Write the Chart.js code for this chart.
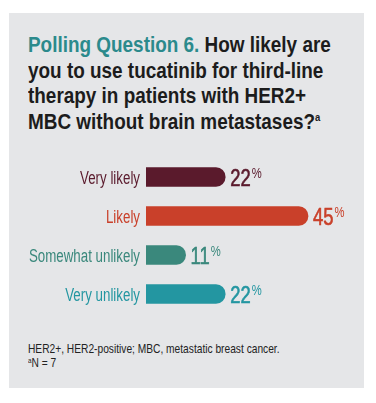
<!DOCTYPE html>
<html>
<head>
<meta charset="utf-8">
<script src="https://cdn.jsdelivr.net/npm/chart.js@4"></script>
<style>
  html, body { margin: 0; padding: 0; background: #fff; }
  body { width: 376px; height: 403px; position: relative; overflow: hidden; }
  #panel { position: absolute; left: 9px; top: 13px; width: 355px; height: 375px; background: #e5e6e8; }
  #title { position: absolute; left: 28px; top: 32px; white-space: nowrap;
    font-family: "Liberation Sans", Arial, sans-serif;
    font-weight: bold; font-size: 22px; line-height: 25.5px; color: #1c1c1c;
    transform: scaleX(0.86); transform-origin: 0 0; }
  #title .lead { color: #2b8a8c; }
  #title sup { font-size: 11px; vertical-align: 8px; line-height: 0; }
  #chartBox { position: absolute; left: 0; top: 150px; width: 376px; height: 170px; }
  #foot { position: absolute; left: 28px; top: 342px; white-space: nowrap;
    font-family: "Liberation Sans", Arial, sans-serif;
    font-size: 13px; line-height: 14px; color: #222;
    transform: scaleX(0.785); transform-origin: 0 0; }
  #foot sup { font-size: 8px; vertical-align: 4px; line-height: 0; }
</style>
</head>
<body>
<div id="panel"></div>
<div id="title"><span class="lead">Polling Question 6.</span> How likely are<br>you to use tucatinib for third-line<br>therapy in patients with HER2+<br>MBC without brain metastases?<sup>a</sup></div>
<div id="chartBox"><canvas id="pollChart" width="376" height="170"></canvas></div>
<div id="foot">HER2+, HER2-positive; MBC, metastatic breast cancer.<br><sup>a</sup>N = 7</div>

<script>
const categories = ['Very likely', 'Likely', 'Somewhat unlikely', 'Very unlikely'];
const percentages = [22, 45, 11, 22];
const barColors = ['#5a1a2c', '#c9402a', '#3a887c', '#2396a1'];

const fontFamily = '"Liberation Sans", Arial, sans-serif';

// the original uses a condensed face, so squeeze the text horizontally
function narrowText(ctx, text, x, y, align, squeeze, stroke) {
  ctx.save();
  ctx.translate(x, y);
  ctx.scale(squeeze, 1);
  ctx.textAlign = align;
  ctx.fillText(text, 0, 0);
  if (stroke) {
    ctx.strokeStyle = ctx.fillStyle;
    ctx.lineWidth = stroke;
    ctx.strokeText(text, 0, 0);
  }
  const w = ctx.measureText(text).width * squeeze;
  ctx.restore();
  return w;
}

// category names on the left and "22%" after each bar
const textLayer = {
  id: 'textLayer',
  afterDatasetsDraw(chart) {
    const ctx = chart.ctx;
    const yScale = chart.scales.y;
    const meta = chart.getDatasetMeta(0);
    ctx.save();
    ctx.textBaseline = 'alphabetic';
    categories.forEach((name, i) => {
      const cy = yScale.getPixelForValue(i);
      ctx.fillStyle = barColors[i];
      ctx.font = '18px ' + fontFamily;
      narrowText(ctx, name, chart.chartArea.left - 6, cy + 6.5, 'right', 0.74);

      const bar = meta.data[i];
      const x = bar.x + 5;
      const y = cy + 8.5;
      ctx.font = '23px ' + fontFamily;
      const w = narrowText(ctx, String(percentages[i]), x, y, 'left', 0.8, 0.6);
      ctx.font = '15px ' + fontFamily;
      narrowText(ctx, '%', x + w + 1, y - 8, 'left', 0.75);
    });
    ctx.restore();
  }
};

const ctx = document.getElementById('pollChart').getContext('2d');
const pollChart = new Chart(ctx, {
  type: 'bar',
  data: {
    labels: categories,
    datasets: [{
      data: percentages,
      backgroundColor: barColors,
      barThickness: 19,
      borderSkipped: 'start',
      borderRadius: { topRight: 10, bottomRight: 10, topLeft: 0, bottomLeft: 0 }
    }]
  },
  options: {
    indexAxis: 'y',
    responsive: false,
    animation: false,
    events: [],
    layout: { padding: { top: 7.5, bottom: 6.5, left: 0, right: 32 } },
    scales: {
      x: { display: false, min: 0, max: 55 },
      y: {
        afterFit: s => { s.width = 146; },
        grid: { display: false, drawTicks: false },
        border: { display: false },
        ticks: { display: false }
      }
    },
    plugins: {
      legend: { display: false },
      tooltip: { enabled: false }
    }
  },
  plugins: [textLayer]
});
</script>
</body>
</html>
